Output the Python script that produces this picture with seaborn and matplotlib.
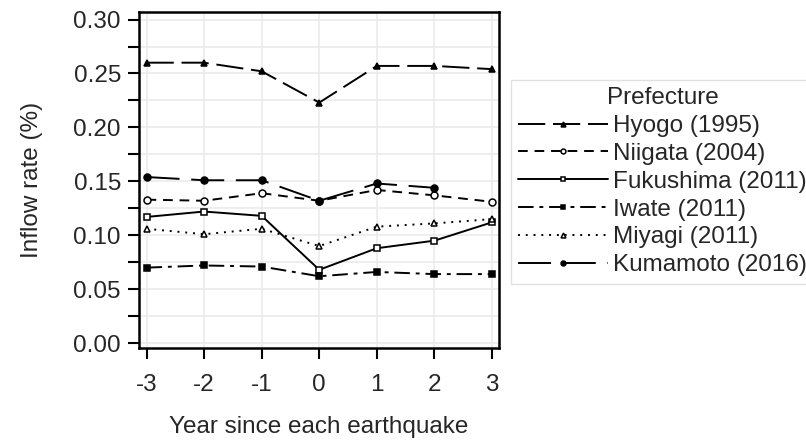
import seaborn as sns
import matplotlib.pyplot as plt
import pandas as pd
from matplotlib.ticker import MultipleLocator

years = [-3, -2, -1, 0, 1, 2, 3]
prefectures = ['Hyogo (1995)', 'Niigata (2004)', 'Fukushima (2011)',
               'Iwate (2011)', 'Miyagi (2011)', 'Kumamoto (2016)']

hyogo = [0.260, 0.260, 0.252, 0.223, 0.257, 0.257, 0.254]
niigata = [0.133, 0.132, 0.139, 0.132, 0.142, 0.137, 0.131]
fukushima = [0.117, 0.122, 0.118, 0.068, 0.088, 0.095, 0.112]
iwate = [0.070, 0.072, 0.071, 0.062, 0.066, 0.064, 0.064]
miyagi = [0.106, 0.101, 0.106, 0.090, 0.108, 0.111, 0.115]
kumamoto = [0.154, 0.151, 0.151, 0.132, 0.148, 0.144]  # no year 3

series = [hyogo, niigata, fukushima, iwate, miyagi, kumamoto]
rows = []
for name, vals in zip(prefectures, series):
    for yr, v in zip(years, vals):
        rows.append({'Year': yr, 'Rate': v, 'Prefecture': name})
df = pd.DataFrame(rows)

styles = {
    'Hyogo (1995)': dict(ls=(0, (14, 4)), marker='^', mfc='black'),
    'Niigata (2004)': dict(ls=(0, (5, 3.5)), marker='o', mfc='white'),
    'Fukushima (2011)': dict(ls='-', marker='s', mfc='white'),
    'Iwate (2011)': dict(ls=(0, (8, 3, 2, 3)), marker='s', mfc='black'),
    'Miyagi (2011)': dict(ls=(0, (1, 3)), marker='^', mfc='white'),
    'Kumamoto (2016)': dict(ls=(0, (17, 6)), marker='o', mfc='black'),
}

sns.set_theme(style="white")
plt.rcParams['font.family'] = ['Liberation Sans', 'DejaVu Sans']
plt.rcParams['axes.unicode_minus'] = False

fig = plt.figure(figsize=(8.06, 4.44), dpi=100)
ax = fig.add_axes([0.1725, 0.216, 0.4465, 0.757])

for name in prefectures:
    st = styles[name]
    sns.lineplot(data=df[df['Prefecture'] == name], x='Year', y='Rate', ax=ax,
                 color='black', linewidth=1.4, linestyle=st['ls'],
                 marker=st['marker'], markerfacecolor=st['mfc'],
                 markeredgecolor='black', markeredgewidth=1.1, markersize=5,
                 label=name)

ax.set_xlim(-3.13, 3.12)
ax.set_ylim(-0.0046, 0.307)
ax.set_xticks(years)
ax.yaxis.set_major_locator(MultipleLocator(0.05))
ax.yaxis.set_minor_locator(MultipleLocator(0.025))
ax.set_yticklabels([f'{v:.2f}' for v in ax.get_yticks()])
ax.grid(True, which='both', axis='y', color='#ebebeb', linewidth=1.2)
ax.grid(True, which='major', axis='x', color='#ebebeb', linewidth=1.2)
ax.set_axisbelow(True)

for s in ax.spines.values():
    s.set_color('black')
    s.set_linewidth(1.8)
ax.tick_params(axis='both', which='both', direction='out', length=8, width=1.5,
               color='black', labelsize=17.5, bottom=True, left=True)
ax.tick_params(axis='x', pad=11)
ax.tick_params(axis='y', pad=5)

ax.set_xlabel('Year since each earthquake', fontsize=17.5, labelpad=14)
ax.set_ylabel('Inflow rate (%)', fontsize=17.5, labelpad=22)

leg = ax.legend(title='Prefecture', loc='upper left',
                bbox_to_anchor=(0.634, 0.82), bbox_transform=fig.transFigure,
                fontsize=17.5, title_fontsize=17.5, handlelength=3.7,
                handletextpad=0.2, labelspacing=0.24, borderpad=0.3,
                markerscale=0.7, frameon=True, fancybox=False, borderaxespad=0)
leg.get_frame().set_edgecolor('#d9d9d9')
leg.get_frame().set_linewidth(1.0)

plt.savefig('out.png', dpi=100)
